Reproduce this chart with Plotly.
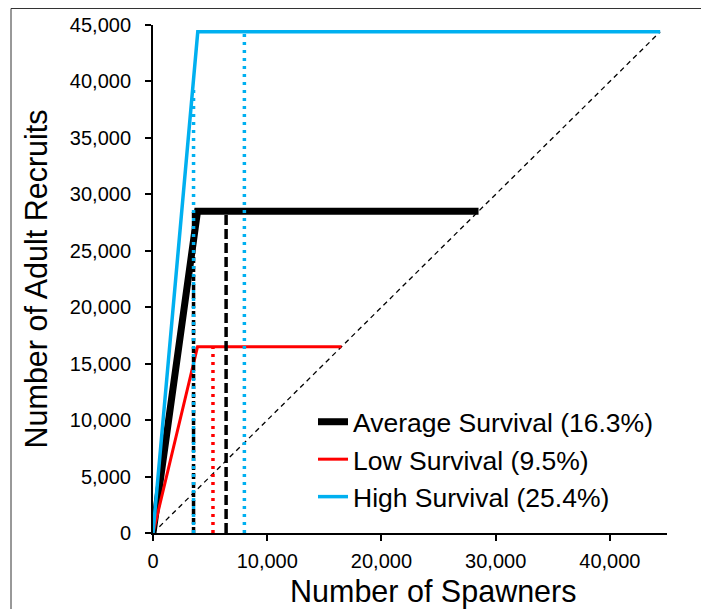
import plotly.graph_objects as go

# ---------------- data ----------------
series_names = ["Average Survival (16.3%)", "Low Survival (9.5%)", "High Survival (25.4%)"]

avg_spawners = [0, 3900, 28500]
avg_recruits = [0, 28500, 28500]

low_spawners = [0, 3500, 3900, 16500]
low_recruits = [0, 14600, 16500, 16500]

high_spawners = [0, 3920, 44400]
high_recruits = [0, 44400, 44400]

replacement_x = [0, 44400]
replacement_y = [0, 44400]

# vertical reference lines: spawner value, top value
avg_ref_x = [3550, 6400]
avg_ref_top = [28500, 28500]
low_ref_x = [5250]
low_ref_top = [16500]
high_ref_x = [3550, 8000]
high_ref_top = [39500, 44400]

x_ticks = [0, 10000, 20000, 30000, 40000]
y_ticks = [0, 5000, 10000, 15000, 20000, 25000, 30000, 35000, 40000, 45000]

x_title = "Number of Spawners"
y_title = "Number of Adult Recruits"

BLACK = "#000000"
RED = "#FF0000"
BLUE = "#00B0F0"
FONT = "Arial, Liberation Sans, sans-serif"

fig = go.Figure()

# 1:1 replacement line
fig.add_trace(go.Scatter(x=replacement_x, y=replacement_y, mode="lines",
                         line=dict(color=BLACK, width=1.3, dash="5px,4px"),
                         showlegend=False, hoverinfo="skip"))

# main stock-recruit lines
fig.add_trace(go.Scatter(x=avg_spawners, y=avg_recruits, mode="lines", name=series_names[0],
                         line=dict(color=BLACK, width=7)))
fig.add_trace(go.Scatter(x=low_spawners, y=low_recruits, mode="lines", name=series_names[1],
                         line=dict(color=RED, width=3)))
fig.add_trace(go.Scatter(x=high_spawners, y=high_recruits, mode="lines", name=series_names[2],
                         line=dict(color=BLUE, width=3.5)))


def vline(x, top, color, width, dash):
    fig.add_trace(go.Scatter(x=[x, x], y=[0, top], mode="lines",
                             line=dict(color=color, width=width, dash=dash),
                             showlegend=False, hoverinfo="skip"))


# black dashed reference lines
vline(avg_ref_x[0], avg_ref_top[0], BLACK, 3.5, "6px,3px")
vline(avg_ref_x[1], avg_ref_top[1], BLACK, 3.5, "10px,4px")
# red dotted
vline(low_ref_x[0], low_ref_top[0], RED, 3.5, "3px,5px")
# blue dotted
vline(high_ref_x[0], high_ref_top[0], BLUE, 3.5, "3px,5px")
vline(high_ref_x[1], high_ref_top[1], BLUE, 3.5, "3px,5px")

# the page places the figure 8px from the top-left corner
OFF = 8
W, H = 701, 601
ML, MT = 145, 17
pw = 659 - ML
ph = 525 - MT
MR = W - ML - pw
MB = H - MT - ph


def px_x(fx):
    return (fx - ML) / pw


def px_y(fy):
    return (MT + ph - fy) / ph


# outer chart frame (left/top edges visible)
fig.add_shape(type="rect", xref="paper", yref="paper",
              x0=px_x(11 - OFF), x1=px_x(W + 20),
              y0=px_y(H + 20), y1=px_y(0.5),
              line=dict(color="#333333", width=1), fillcolor="rgba(0,0,0,0)", layer="below")

# x-axis title (sits right of the plot centre in the original)
fig.add_annotation(text=x_title, xref="paper", yref="paper",
                   x=px_x(425), y=px_y(583), xanchor="center", yanchor="middle",
                   showarrow=False, font=dict(size=30.5, family=FONT, color=BLACK))

fig.update_layout(
    width=W, height=H,
    margin=dict(l=ML, r=MR, t=MT, b=MB, autoexpand=False),
    paper_bgcolor="white", plot_bgcolor="white",
    font=dict(family=FONT, color=BLACK),
    showlegend=True,
    legend=dict(x=px_x(305), y=px_y(390), xanchor="left", yanchor="top",
                bgcolor="rgba(0,0,0,0)", font=dict(size=26.5, family=FONT, color=BLACK),
                traceorder="normal", itemwidth=30),
    xaxis=dict(range=[0, 45000], tickvals=x_ticks, tickformat=",d",
               showgrid=False, zeroline=False, showline=True, linecolor=BLACK, linewidth=2,
               ticks="outside", ticklen=6, tickwidth=1.5, tickcolor=BLACK,
               tickfont=dict(size=20, family=FONT, color=BLACK),
               ticklabelstandoff=3,
               automargin=False),
    yaxis=dict(range=[0, 45000], tickvals=y_ticks, tickformat=",d",
               showgrid=False, zeroline=False, showline=True, linecolor=BLACK, linewidth=2,
               ticks="outside", ticklen=6, tickwidth=1.5, tickcolor=BLACK,
               tickfont=dict(size=20, family=FONT, color=BLACK),
               ticklabelstandoff=10,
               title=dict(text=y_title, font=dict(size=30.5, family=FONT, color=BLACK),
                          standoff=13),
               automargin=False),
)

fig.write_html("out.html")
